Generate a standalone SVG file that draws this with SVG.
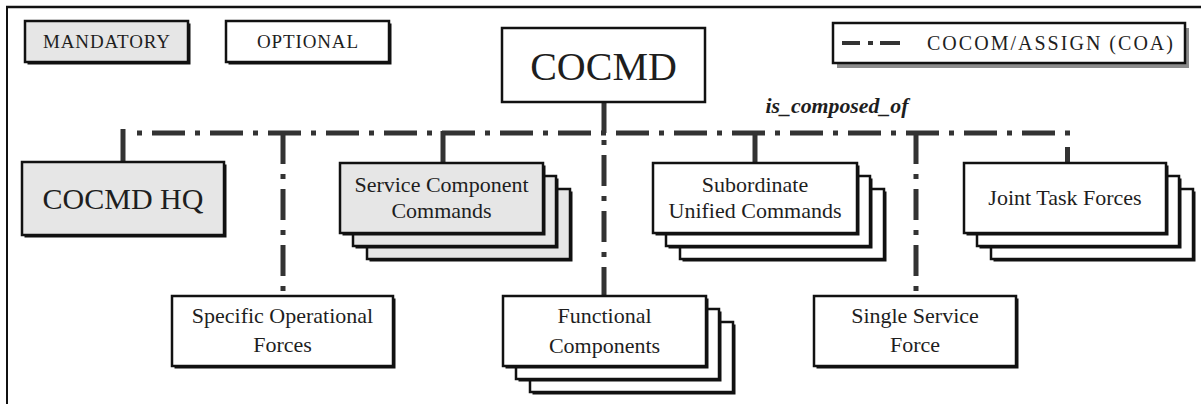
<svg xmlns="http://www.w3.org/2000/svg" width="1201" height="404" viewBox="0 0 1201 404">
<defs>
<style>
.bx{stroke:#111;stroke-width:2.5;fill:#fff}
.gy{fill:#e6e6e6}
.sh{fill:#111;stroke:none}
.t{font-family:"Liberation Serif","Times New Roman",serif;fill:#1e1e1e;text-anchor:middle}
.n{font-size:22px}
.lg{font-size:19px}
.c{fill:none;stroke:#333;stroke-width:5}
.dd{stroke-dasharray:31 10 5 10}
</style>
</defs>
<rect x="0" y="0" width="1201" height="404" fill="#fff"/>
<g id="frame">
<line x1="6" y1="7" x2="1201" y2="7" stroke="#111" stroke-width="2.5"/>
<line x1="7" y1="6" x2="7" y2="404" stroke="#111" stroke-width="2"/>
</g>
<g id="connectors">
<path class="c" d="M137 133 H1070" stroke-dasharray="5 10 33 10"/>
<path class="c" d="M123 129 V162"/>
<path class="c" d="M443 131 V163"/>
<path class="c" d="M755 131 V163"/>
<path class="c" d="M1067.5 147 V163"/>
<path class="c" d="M604 102 V133"/>
<path class="c" d="M604 140 V296" stroke-dasharray="5 10 31 10"/>
<path class="c dd" d="M283 133 V296"/>
<path class="c dd" d="M916 133 V296"/>
</g>
<g id="legend-mandatory">
<rect class="sh" x="27.5" y="23.5" width="163" height="41"/>
<rect class="bx gy" x="25" y="21" width="163" height="41"/>
<text class="t lg" x="106.5" y="48" textLength="127" lengthAdjust="spacing">MANDATORY</text>
</g>
<g id="legend-optional">
<rect class="sh" x="228.5" y="23.5" width="163" height="41"/>
<rect class="bx" x="226" y="21" width="163" height="41"/>
<text class="t lg" x="307.5" y="48" textLength="101" lengthAdjust="spacing">OPTIONAL</text>
</g>
<g id="legend-coa">
<rect x="837" y="28" width="352" height="40" fill="#8c8c8c"/>
<rect class="bx" x="833" y="23" width="352" height="40"/>
<line x1="842" y1="43" x2="860" y2="43" stroke="#333" stroke-width="4"/>
<line x1="868" y1="43" x2="873" y2="43" stroke="#333" stroke-width="4"/>
<line x1="880" y1="43" x2="900" y2="43" stroke="#333" stroke-width="4"/>
<text class="t" x="1050" y="50" font-size="20" textLength="246" lengthAdjust="spacing">COCOM/ASSIGN (COA)</text>
</g>
<g id="cocmd">
<rect class="bx" x="502" y="28" width="203" height="74"/>
<text class="t" x="603.5" y="80" font-size="40">COCMD</text>
</g>
<text class="t" x="837" y="113" font-size="21" font-weight="bold" font-style="italic" fill="#333" textLength="143" lengthAdjust="spacingAndGlyphs">is_composed_of</text>
<g id="cocmd-hq">
<rect class="sh" x="24.5" y="164.5" width="202" height="73"/>
<rect class="bx gy" x="22" y="162" width="202" height="73"/>
<text class="t" x="123" y="209" font-size="30">COCMD HQ</text>
</g>
<g id="service-component-commands">
<rect class="sh" x="369.5" y="191.5" width="203" height="70"/>
<rect class="bx gy" x="367" y="189" width="203" height="70"/>
<rect class="sh" x="355.5" y="178.5" width="203" height="70"/>
<rect class="bx gy" x="353" y="176" width="203" height="70"/>
<rect class="sh" x="342.5" y="165.5" width="203" height="70"/>
<rect class="bx gy" x="340" y="163" width="203" height="70"/>
<text class="t n" x="441.5" y="192">Service Component</text>
<text class="t n" x="441.5" y="218">Commands</text>
</g>
<g id="subordinate-unified-commands">
<rect class="sh" x="682.5" y="191.5" width="204" height="70"/>
<rect class="bx" x="680" y="189" width="204" height="70"/>
<rect class="sh" x="668.5" y="178.5" width="204" height="70"/>
<rect class="bx" x="666" y="176" width="204" height="70"/>
<rect class="sh" x="655.5" y="165.5" width="204" height="70"/>
<rect class="bx" x="653" y="163" width="204" height="70"/>
<text class="t n" x="755" y="192">Subordinate</text>
<text class="t n" x="755" y="218">Unified Commands</text>
</g>
<g id="joint-task-forces">
<rect class="sh" x="993.5" y="191.5" width="202" height="70"/>
<rect class="bx" x="991" y="189" width="202" height="70"/>
<rect class="sh" x="979.5" y="178.5" width="202" height="70"/>
<rect class="bx" x="977" y="176" width="202" height="70"/>
<rect class="sh" x="966.5" y="165.5" width="202" height="70"/>
<rect class="bx" x="964" y="163" width="202" height="70"/>
<text class="t n" x="1065" y="205">Joint Task Forces</text>
</g>
<g id="specific-operational-forces">
<rect class="sh" x="174.5" y="298.5" width="221" height="70"/>
<rect class="bx" x="172" y="296" width="221" height="70"/>
<text class="t n" x="282.5" y="323">Specific Operational</text>
<text class="t n" x="282.5" y="352">Forces</text>
</g>
<g id="functional-components">
<rect class="sh" x="532.5" y="324.5" width="203" height="70"/>
<rect class="bx" x="530" y="322" width="203" height="70"/>
<rect class="sh" x="518.5" y="311.5" width="203" height="70"/>
<rect class="bx" x="516" y="309" width="203" height="70"/>
<rect class="sh" x="505.5" y="298.5" width="203" height="70"/>
<rect class="bx" x="503" y="296" width="203" height="70"/>
<text class="t n" x="604.5" y="323">Functional</text>
<text class="t n" x="604.5" y="353">Components</text>
</g>
<g id="single-service-force">
<rect class="sh" x="816.5" y="298.5" width="202" height="70"/>
<rect class="bx" x="814" y="296" width="202" height="70"/>
<text class="t n" x="915" y="323">Single Service</text>
<text class="t n" x="915" y="352">Force</text>
</g>
</svg>
